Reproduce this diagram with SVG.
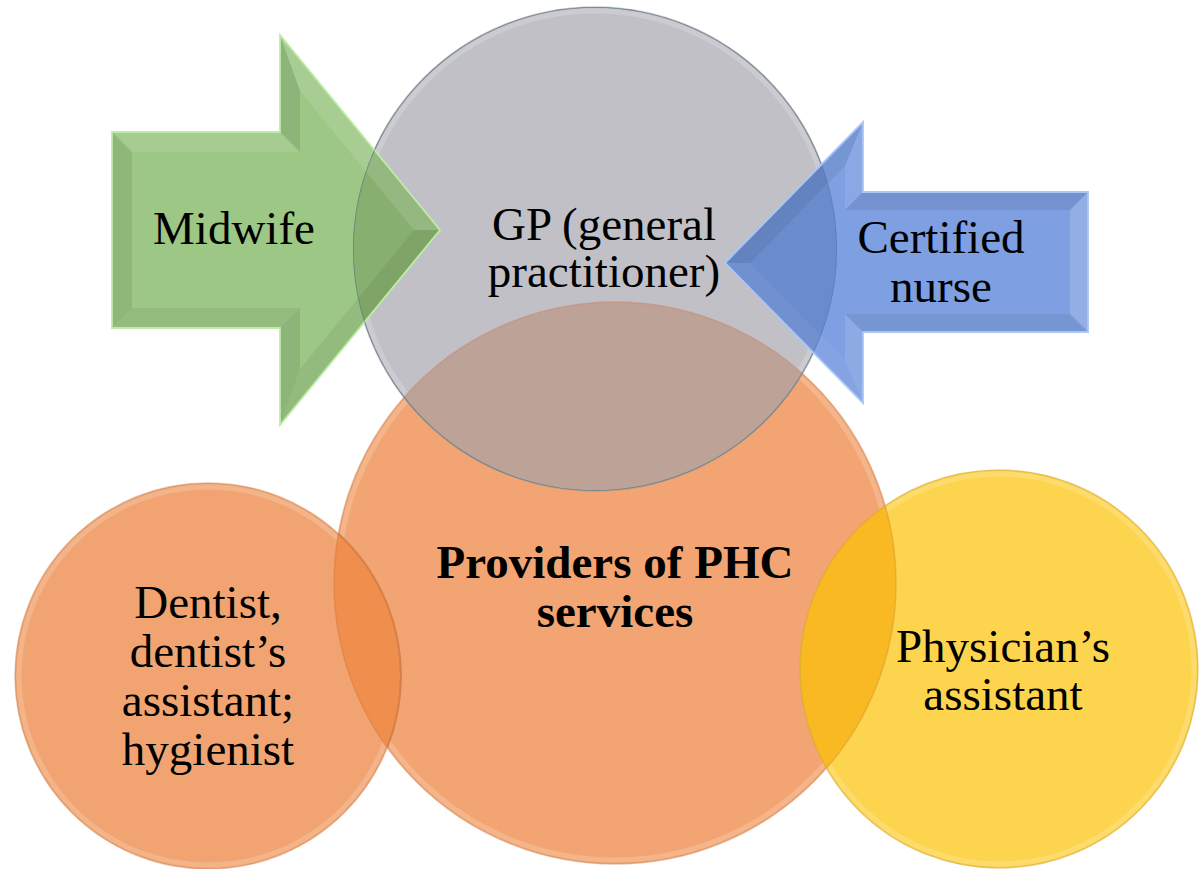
<svg xmlns="http://www.w3.org/2000/svg" width="1201" height="869" viewBox="0 0 1201 869">
<style>
  text { font-family: "Liberation Serif", "Times New Roman", serif; font-size: 47px; fill: #000; text-anchor: middle; }
  .bold { font-weight: bold; }
  .rim { fill: none; stroke-width: 1.5; }
  .glow { fill: none; stroke: #fff; stroke-opacity: 0.18; stroke-width: 5; }
  .dk { fill: #000; }
  .lt { fill: #fff; }
</style>
<defs>
  <clipPath id="clipOrange"><circle cx="615" cy="583" r="281"/></clipPath>
  <clipPath id="clipGray"><circle cx="595" cy="249" r="242"/></clipPath>
  <clipPath id="clipDentist"><circle cx="208" cy="676" r="193"/></clipPath>
  <clipPath id="clipYellow"><circle cx="999" cy="669" r="199"/></clipPath>
</defs>
<rect width="1201" height="869" fill="#fff"/>

<g id="phc">
  <circle cx="615" cy="583" r="281" fill="#F2A572"/>
  <circle class="glow" cx="615" cy="583" r="277"/>
  <circle class="rim" cx="615" cy="583" r="281" stroke="#C98052" stroke-opacity="0.45"/>
  <text class="bold" x="615" y="578">Providers of PHC</text>
  <text class="bold" x="615" y="627">services</text>
</g>

<g id="dentist">
  <circle cx="208" cy="676" r="193" fill="#F1A471"/>
  <circle class="glow" cx="208" cy="676" r="189"/>
  <circle cx="208" cy="676" r="193" fill="#EF8E4D" clip-path="url(#clipOrange)"/>
  <g clip-path="url(#clipOrange)"><circle cx="208" cy="676" r="193" fill="none" stroke="#D0733A" stroke-width="2" stroke-opacity="0.6"/></g>
  <g clip-path="url(#clipDentist)"><circle cx="615" cy="583" r="281" fill="none" stroke="#D97A3C" stroke-width="1.5" stroke-opacity="0.5"/></g>
  <circle class="rim" cx="208" cy="676" r="193" stroke="#C98052" stroke-opacity="0.45"/>
  <text x="208" y="618">Dentist,</text>
  <text x="208" y="667">dentist’s</text>
  <text x="208" y="716">assistant;</text>
  <text x="208" y="765">hygienist</text>
</g>

<g id="physician">
  <circle cx="999" cy="669" r="199" fill="#FDD44E"/>
  <circle class="glow" cx="999" cy="669" r="195"/>
  <circle cx="999" cy="669" r="199" fill="#F9B923" clip-path="url(#clipOrange)"/>
  <g clip-path="url(#clipYellow)"><circle cx="615" cy="583" r="281" fill="none" stroke="#D9962A" stroke-width="1.5" stroke-opacity="0.5"/></g>
  <circle class="rim" cx="999" cy="669" r="199" stroke="#D2A82A" stroke-opacity="0.55"/>
  <text x="1003" y="662">Physician’s</text>
  <text x="1003" y="710">assistant</text>
</g>

<g id="gp">
  <circle cx="595" cy="249" r="242" fill="#C1C0C7"/>
  <circle class="glow" cx="595" cy="249" r="238"/>
  <circle cx="595" cy="249" r="242" fill="#BDA298" clip-path="url(#clipOrange)"/>
  <g clip-path="url(#clipGray)"><circle cx="615" cy="583" r="281" fill="none" stroke="#C98A6A" stroke-width="1.5" stroke-opacity="0.5"/></g>
  <circle class="rim" cx="595" cy="249" r="242" stroke="#8E8D95" stroke-opacity="0.45"/>
  <text x="604" y="240">GP (general</text>
  <text x="604" y="287">practitioner)</text>
</g>

<g id="midwife">
  <path d="M112,132 H280 V35 L440,230 L280,425 V328 H112 Z" fill="#9DC785"/>
  <path d="M112,132 H280 V35 L440,230 L280,425 V328 H112 Z" fill="#87AF6F" clip-path="url(#clipGray)"/>
  <polygon class="lt" fill-opacity="0.10" points="112,132 280,132 300,152 132,152"/>
  <polygon class="dk" fill-opacity="0.09" points="280,132 280,35 300,91 300,152"/>
  <polygon class="lt" fill-opacity="0.12" points="280,35 440,230 414,230 300,91"/>
  <polygon class="dk" fill-opacity="0.06" points="440,230 280,425 300,369 414,230"/>
  <polygon class="dk" fill-opacity="0.09" points="280,425 280,328 300,308 300,369"/>
  <polygon class="dk" fill-opacity="0.05" points="280,328 112,328 132,308 300,308"/>
  <polygon class="dk" fill-opacity="0.08" points="112,328 112,132 132,152 132,308"/>
  <g clip-path="url(#clipGray)"><circle cx="595" cy="249" r="242" fill="none" stroke="#6E8F5A" stroke-width="1.5" stroke-opacity="0.5"/></g>
  <path d="M112,132 H280 V35 L440,230 L280,425 V328 H112 Z" fill="none" stroke="#BDEDA5" stroke-width="1.8"/>
  <text x="234" y="244">Midwife</text>
</g>

<g id="nurse">
  <path d="M725,263 L863,122 V192 H1088 V332 H863 V403 Z" fill="#7E9FE1"/>
  <path d="M725,263 L863,122 V192 H1088 V332 H863 V403 Z" fill="#6A8BCD" clip-path="url(#clipGray)"/>
  <polygon class="dk" fill-opacity="0.06" points="725,263 863,122 845,166 750,263"/>
  <polygon class="lt" fill-opacity="0.10" points="863,122 863,192 845,210 845,166"/>
  <polygon class="dk" fill-opacity="0.08" points="863,192 1088,192 1070,210 845,210"/>
  <polygon class="lt" fill-opacity="0.16" points="1088,192 1088,332 1070,314 1070,210"/>
  <polygon class="dk" fill-opacity="0.06" points="1088,332 863,332 845,314 1070,314"/>
  <polygon class="lt" fill-opacity="0.12" points="863,332 863,403 845,360 845,314"/>
  <polygon class="lt" fill-opacity="0.05" points="863,403 725,263 750,263 845,360"/>
  <g clip-path="url(#clipGray)"><circle cx="595" cy="249" r="242" fill="none" stroke="#4F6DA8" stroke-width="1.5" stroke-opacity="0.5"/></g>
  <path d="M725,263 L863,122 V192 H1088 V332 H863 V403 Z" fill="none" stroke="#A9C6F7" stroke-width="1.8"/>
  <text x="941" y="253">Certified</text>
  <text x="941" y="302">nurse</text>
</g>

<g id="connectors"></g>
</svg>
